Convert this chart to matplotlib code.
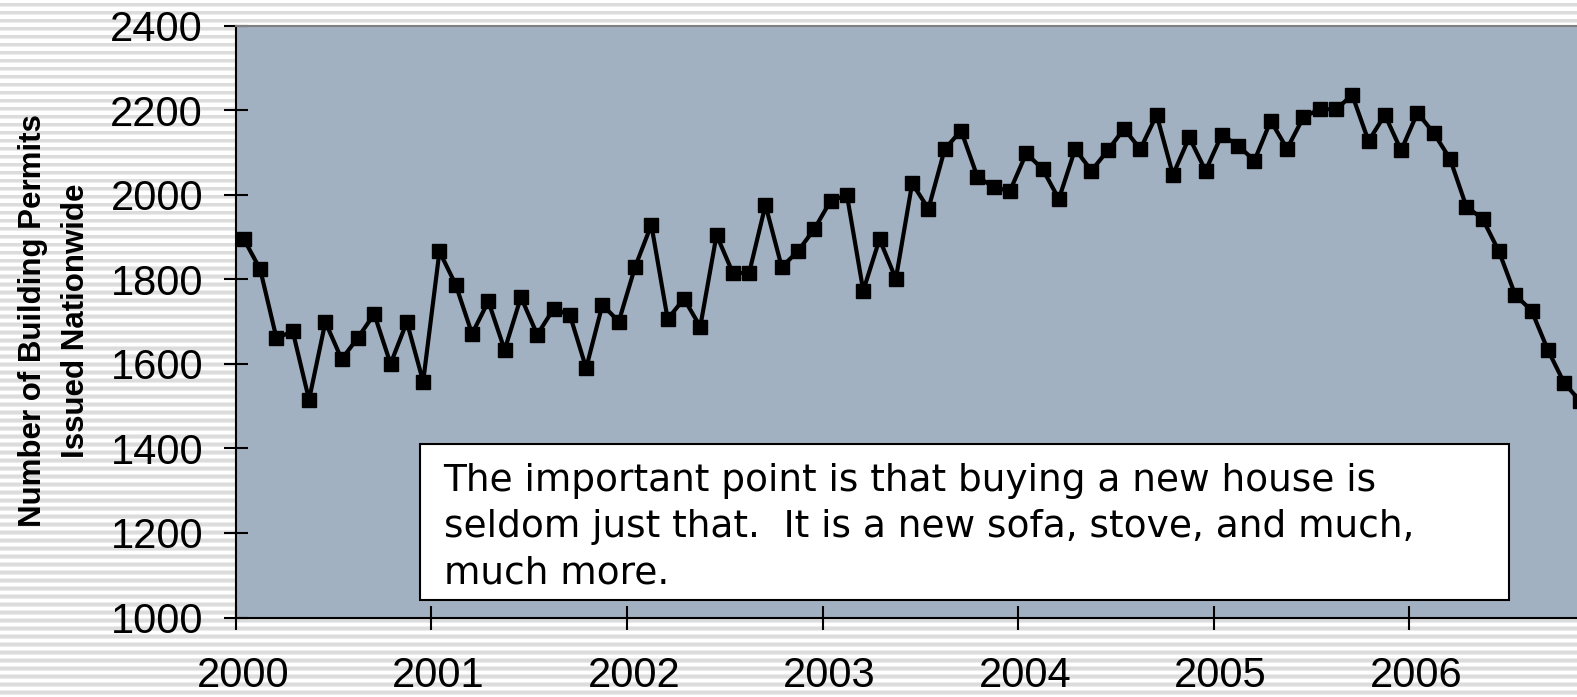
import numpy as np
import matplotlib
matplotlib.use("Agg")
import matplotlib.pyplot as plt
from matplotlib.patches import Rectangle
import matplotlib.transforms as mtransforms

# ---------------- data ----------------
permits = [1895, 1824, 1661, 1677, 1515, 1699, 1611, 1662, 1718, 1600, 1699, 1558,   # 2000
           1866, 1787, 1671, 1748, 1633, 1758, 1669, 1730, 1716, 1590, 1740, 1700,   # 2001
           1829, 1929, 1706, 1754, 1688, 1905, 1815, 1815, 1976, 1829, 1867, 1919,   # 2002
           1986, 1999, 1773, 1895, 1801, 2027, 1967, 2108, 2152, 2043, 2018, 2009,   # 2003
           2098, 2061, 1990, 2108, 2057, 2105, 2156, 2108, 2189, 2047, 2136, 2057,   # 2004
           2142, 2116, 2081, 2175, 2109, 2183, 2203, 2202, 2236, 2127, 2189, 2105,   # 2005
           2194, 2146, 2085, 1972, 1943, 1866, 1763, 1726, 1633, 1555, 1511]         # 2006
year_labels = ["2000", "2001", "2002", "2003", "2004", "2005", "2006"]
y_ticks = [1000, 1200, 1400, 1600, 1800, 2000, 2200, 2400]
ylabel = "Number of Building Permits\nIssued Nationwide"
note = ("The important point is that buying a new house is\n"
        "seldom just that.  It is a new sofa, stove, and much,\n"
        "much more.")

# ---------------- figure ----------------
W, H = 1577, 697
DPI = 100
fig = plt.figure(figsize=(W / DPI, H / DPI), dpi=DPI)
fig.patch.set_facecolor("white")

# striped background
bg = fig.add_axes([0, 0, 1, 1], zorder=-5)
bg.set_xlim(0, W)
bg.set_ylim(H, 0)
bg.axis("off")
for yc in np.arange(4.7, H, 8.0):
    bg.axhspan(yc - 1.4, yc + 1.4, color="#dcdcdc", lw=0)
    bg.axhspan(yc - 2.2, yc - 1.4, color="#ececec", lw=0)
    bg.axhspan(yc + 1.4, yc + 2.2, color="#ececec", lw=0)

# main axes
px_month = 16.3
left_px, top_px, bottom_px = 235.7, 25.7, 617.5
n_months = 84
ax_w_px = n_months * px_month
ax = fig.add_axes([left_px / W, (H - bottom_px) / H, ax_w_px / W, (bottom_px - top_px) / H])
ax.set_facecolor("#a2b1c1")

x = np.arange(len(permits)) + 0.5
ax.plot(x, permits, color="black", lw=3, marker="s", markersize=10.5,
        markerfacecolor="black", markeredgecolor="black", clip_on=True)

ax.set_xlim(0, n_months)
ax.set_ylim(1000, 2400)
ax.set_yticks(y_ticks)
ax.set_yticklabels([str(v) for v in y_ticks])
ax.set_xticks(np.arange(len(year_labels)) * 12)
ax.set_xticklabels(year_labels)

ax.tick_params(axis="both", direction="inout", length=17, width=1.5, colors="black",
               labelsize=30)
ax.tick_params(axis="y", pad=15)
ax.tick_params(axis="x", pad=19)
for lab in ax.get_xticklabels() + ax.get_yticklabels():
    lab.set_fontfamily("Liberation Sans")
# year labels sit slightly right of their tick marks
offset = mtransforms.ScaledTranslation(7 / DPI, 0, fig.dpi_scale_trans)
for tick in ax.xaxis.get_major_ticks():
    tick.label1.set_transform(tick.label1.get_transform() + offset)

ax.spines["left"].set_linewidth(1.5)
ax.spines["left"].set_color("black")
ax.spines["bottom"].set_linewidth(1.5)
ax.spines["bottom"].set_color("black")
ax.spines["top"].set_linewidth(1.5)
ax.spines["top"].set_color("#808080")
ax.spines["right"].set_visible(False)

# y label
fig.text(54.5 / W, (H - 321) / H, ylabel, rotation=90, ha="center", va="center",
         multialignment="center", fontsize=22.5, fontweight="bold",
         family="Liberation Sans", linespacing=1.53)

# note box
bx0, by0, bx1, by1 = 420.4, 443.5, 1508.6, 600.4
fig.add_artist(Rectangle((bx0 / W, (H - by1) / H), (bx1 - bx0) / W, (by1 - by0) / H,
                         transform=fig.transFigure, facecolor="white", edgecolor="black",
                         lw=1.5, zorder=10))
fig.text(443.5 / W, (H - 527) / H, note, ha="left", va="center", fontsize=27,
         family="DejaVu Sans", linespacing=1.36, zorder=11)

fig.savefig("out.png", dpi=DPI)
